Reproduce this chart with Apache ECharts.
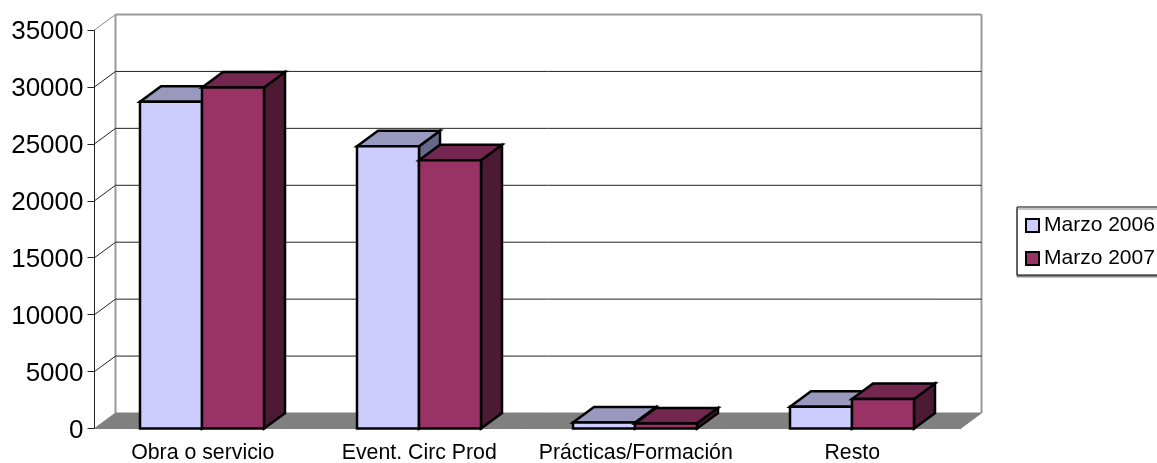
<!DOCTYPE html>
<html><head><meta charset="utf-8">
<style>html,body{margin:0;padding:0;background:#fff;overflow:hidden}#c{width:1157px;height:463px}</style>
<script src="https://cdn.jsdelivr.net/npm/echarts@6/dist/echarts.min.js"></script></head>
<body><div id="c"></div>
<script>
const categories = ['Obra o servicio','Event. Circ Prod','Prácticas/Formación','Resto'];
const marzo2006 = [28700,24800,530,1900];
const marzo2007 = [29950,23550,450,2600];
const yTicks = [0,5000,10000,15000,20000,25000,30000,35000];

const DX = 21, DY = -15.5, BAR = 62, FONT = '"Liberation Sans", Arial, sans-serif';

function bar3d(side, front, top, dark) {
  return function (params, api) {
    const p = api.coord([api.value(0), api.value(1)]);
    const base = api.coord([api.value(0), 0]);
    const x0 = Math.round(p[0] - 0.5) + side * BAR, x1 = x0 + BAR, y = p[1], b = base[1];
    const st = { stroke: '#000', lineWidth: 2.5, lineJoin: 'miter' };
    return { type: 'group', children: [
      { type: 'polygon', shape: { points: [[x1,y],[x1+DX,y+DY],[x1+DX,b+DY],[x1,b]] }, style: { fill: dark, ...st } },
      { type: 'polygon', shape: { points: [[x0,y],[x0+DX,y+DY],[x1+DX,y+DY],[x1,y]] }, style: { fill: top, ...st } },
      { type: 'rect', shape: { x: x0, y: y, width: BAR, height: b - y }, style: { fill: front, ...st } }
    ]};
  };
}
function wall(params, api) {
  const v = api.value(0), c = params.coordSys, y = api.coord([0, v])[1];
  const L = c.x, R = c.x + c.width, ch = [];
  if (v === 0) {
    ch.push({ type: 'polygon', shape: { points: [[L,y],[L+DX,y+DY],[R+DX,y+DY],[R,y]] }, style: { fill: '#808080', stroke: '#808080', lineWidth: 1 } });
    ch.push({ type: 'line', shape: { x1: L+DX, y1: y+DY, x2: L+DX, y2: c.y+DY }, style: { stroke: '#999', lineWidth: 2 } });
    ch.push({ type: 'line', shape: { x1: R+DX, y1: y+DY, x2: R+DX, y2: c.y+DY }, style: { stroke: '#999', lineWidth: 2 } });
  } else {
    const top = v === yTicks[yTicks.length-1], col = top ? '#999' : '#222';
    ch.push({ type: 'line', shape: { x1: L+DX, y1: y+DY, x2: R+DX, y2: y+DY }, style: { stroke: col, lineWidth: top ? 2 : 1 } });
    ch.push({ type: 'line', shape: { x1: L, y1: y, x2: L+DX, y2: y+DY }, style: { stroke: top ? '#888' : '#222', lineWidth: 1 } });
  }
  return { type: 'group', children: ch };
}

const chart = echarts.init(document.getElementById('c'), null, { renderer: 'canvas' });
chart.setOption({
  animation: false,
  grid: { left: 94.5, top: 30, width: 866, height: 398.5, containLabel: false, outerBoundsMode: 'none' },
  xAxis: { type: 'category', data: categories, boundaryGap: true,
    axisLine: { lineStyle: { color: '#222', width: 1 } },
    axisTick: { length: 7, lineStyle: { color: '#222' } },
    axisLabel: { color: '#000', fontFamily: FONT, fontSize: 21.3, margin: 14, interval: 0 } },
  yAxis: { type: 'value', min: 0, max: 35000, interval: 5000,
    axisLine: { show: true, lineStyle: { color: '#222', width: 1 } },
    axisTick: { show: true, length: 7, lineStyle: { color: '#222' } },
    splitLine: { show: false },
    axisLabel: { color: '#000', fontFamily: FONT, fontSize: 26, margin: 11, formatter: v => '{a|' + v + '}',
      rich: { a: { color: '#000', fontFamily: FONT, fontSize: 26, padding: [4,0,0,0] } } } },
  legend: { left: 1017, top: 207, orient: 'vertical', data: ['Marzo 2006','Marzo 2007'],
    backgroundColor: '#fff', borderColor: '#000', borderWidth: 1, borderRadius: 0,
    shadowColor: '#888', shadowBlur: 0, shadowOffsetX: 0, shadowOffsetY: 2,
    padding: [8, 20, 6, 8], itemGap: 12, itemWidth: 13, itemHeight: 13, icon: 'rect',
    textStyle: { color: '#000', fontFamily: FONT, fontSize: 21, padding: [0,0,0,0] } },
  series: [
    { type: 'custom', name: 'wall', silent: true, z: 1, renderItem: wall, data: yTicks.map(v => [v]), encode: { y: 0 }, clip: false },
    { type: 'custom', name: 'Marzo 2006', z: 3, clip: false, renderItem: bar3d(-1, '#CCCCFF', '#9999BF', '#666A88'),
      itemStyle: { color: '#CCCCFF', borderColor: '#000', borderWidth: 2 },
      data: marzo2006.map((v, i) => [i, v]), encode: { x: 0, y: 1 } },
    { type: 'custom', name: 'Marzo 2007', z: 3, clip: false, renderItem: bar3d(0, '#993366', '#732650', '#4D1A33'),
      itemStyle: { color: '#993366', borderColor: '#000', borderWidth: 2 },
      data: marzo2007.map((v, i) => [i, v]), encode: { x: 0, y: 1 } }
  ]
});
</script></body></html>
